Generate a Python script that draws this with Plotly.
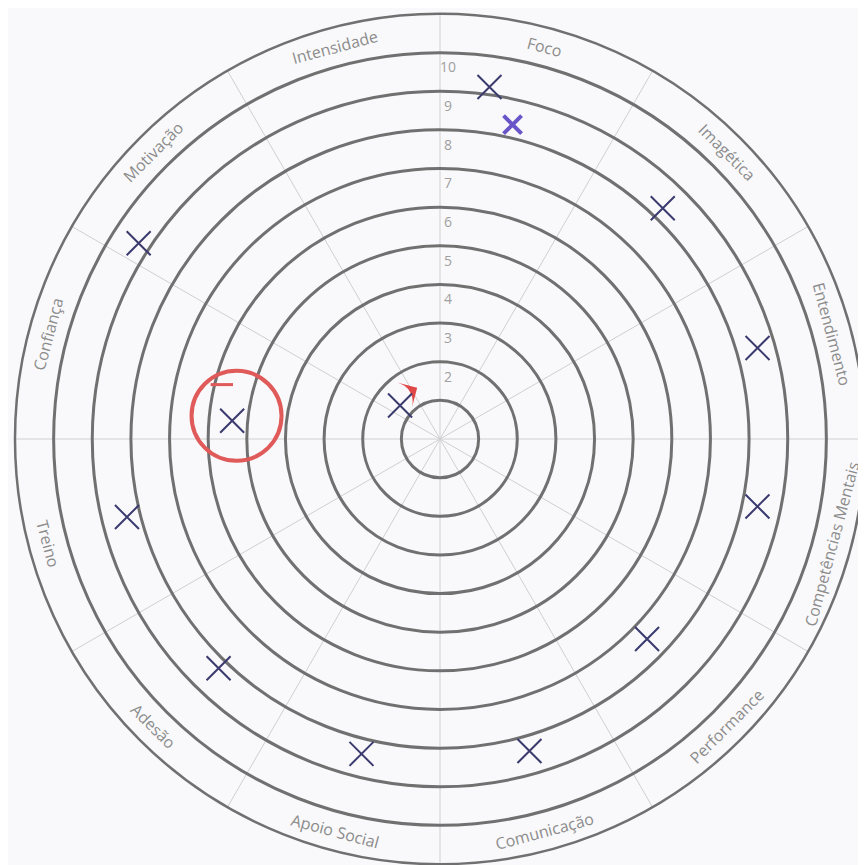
import math
import plotly.graph_objects as go

# ---- data ----
categories = ["Foco", "Imagética", "Entendimento", "Competências Mentais", "Performance",
              "Comunicação", "Apoio Social", "Adesão", "Treino", "Confiança",
              "Motivação", "Intensidade"]
ring_labels = ["2", "3", "4", "5", "6", "7", "8", "9", "10"]
ring_values = [2, 3, 4, 5, 6, 7, 8, 9, 10]

# hand-drawn X marks (radius in ring units, angle in degrees clockwise from top)
mark_r = [9.2, 8.3, 8.55, 8.4, 7.45, 8.4, 8.4, 8.25, 8.35, 5.4, 9.3, 1.35]
mark_theta = [8, 44, 74, 102, 134, 164, 194, 224, 256, 275, 303, 310]
# scribbled (crossed-out) mark in Foco
scribble_r = [8.35]
scribble_theta = [13]
# red highlight around Confiança
highlight_r = [5.3]
highlight_theta = [276.5]
dash_r = [5.82]
dash_theta = [284]
arrow_r = [1.45]
arrow_theta = [336]

R_MAX = 11
PX_PER_UNIT = 425 / R_MAX
n = len(categories)
sector = 360 / n
cat_theta = [sector * i + sector / 2 for i in range(n)]

fig = go.Figure()

# ring numbers, just right of the vertical spoke
num_r = [v - 0.42 for v in ring_values]
num_theta = [math.degrees(8 / (rr * PX_PER_UNIT)) for rr in num_r]
fig.add_trace(go.Scatterpolar(
    r=num_r, theta=num_theta,
    mode="text", text=ring_labels,
    textfont=dict(family="Open Sans, sans-serif", size=14, color="#a0a0a0"),
    hoverinfo="skip", showlegend=False))

# red circle highlight
fig.add_trace(go.Scatterpolar(
    r=highlight_r, theta=highlight_theta, mode="markers",
    marker=dict(symbol="circle-open", size=90, color="#e05a5a",
                line=dict(width=4, color="#e05a5a")),
    hoverinfo="skip", showlegend=False))
fig.add_trace(go.Scatterpolar(
    r=dash_r, theta=dash_theta, mode="markers",
    marker=dict(symbol="line-ew-open", size=16, color="#e05a5a",
                line=dict(width=3, color="#e05a5a")),
    hoverinfo="skip", showlegend=False))
fig.add_trace(go.Scatterpolar(
    r=arrow_r, theta=arrow_theta, mode="markers",
    marker=dict(symbol="arrow-wide", size=20, color="#e04848", angle=60,
                line=dict(width=0)),
    hoverinfo="skip", showlegend=False))

# scribbled mark
fig.add_trace(go.Scatterpolar(
    r=scribble_r, theta=scribble_theta, mode="markers",
    marker=dict(symbol="x-thin", size=18, color="#6a55c8",
                line=dict(width=4, color="#6a55c8")),
    hoverinfo="skip", showlegend=False))

# X marks
fig.add_trace(go.Scatterpolar(
    r=mark_r, theta=mark_theta, mode="markers",
    marker=dict(symbol="x-thin", size=24, color="#3a3a6e",
                line=dict(width=2, color="#3a3a6e")),
    hoverinfo="skip", showlegend=False))

# category labels in the outer band, rotated tangentially
annotations = []
label_r = 10.5
for name, th in zip(categories, cat_theta):
    rad = math.radians(th)
    x = 0.5 + 0.5 * (label_r / R_MAX) * math.sin(rad)
    y = 0.5 + 0.5 * (label_r / R_MAX) * math.cos(rad)
    ang = th if (th < 90 or th > 270) else th - 180
    if ang > 180:
        ang -= 360
    annotations.append(dict(
        x=x, y=y, xref="paper", yref="paper", text=name, showarrow=False,
        textangle=ang, xanchor="center", yanchor="middle",
        font=dict(family="Open Sans, sans-serif", size=16, color="#8c8c8c")))

fig.update_layout(
    width=866, height=865,
    margin=dict(l=7, r=9, t=6, b=9),
    paper_bgcolor="#f9f9fb", plot_bgcolor="#f9f9fb",
    annotations=annotations,
    polar=dict(
        bgcolor="#f9f9fb",
        domain=dict(x=[0, 1], y=[0, 1]),
        radialaxis=dict(range=[0, R_MAX], tickvals=list(range(1, 11)),
                        showticklabels=False, ticks="", showline=False,
                        gridcolor="#707070", gridwidth=2.5),
        angularaxis=dict(direction="clockwise", rotation=90,
                         tickvals=[sector * i for i in range(n)],
                         showticklabels=False, ticks="",
                         gridcolor="#cfcfcf", gridwidth=1,
                         showline=True, linecolor="#707070", linewidth=2.5),
    ),
)

fig.write_html("out.html")
